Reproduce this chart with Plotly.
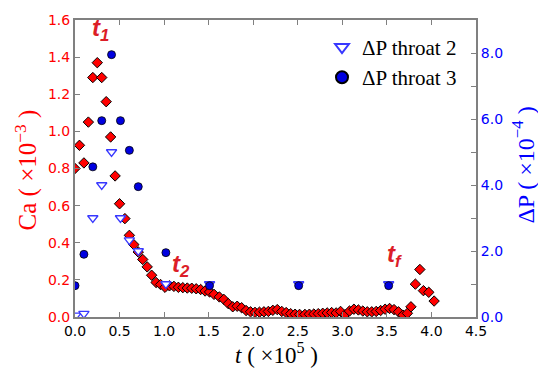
import plotly.graph_objects as go

# ---- data ----
t_ca = [0.00, 0.05, 0.10, 0.15, 0.20, 0.25, 0.30, 0.35, 0.40, 0.45,
        0.50, 0.56, 0.61, 0.66, 0.71, 0.76, 0.81, 0.86, 0.91, 0.96,
        1.01, 1.06, 1.11, 1.16, 1.21, 1.26, 1.31, 1.36, 1.41, 1.46,
        1.51, 1.56, 1.62, 1.67, 1.72, 1.77, 1.82, 1.87, 1.92, 1.97,
        2.02, 2.07, 2.12, 2.17, 2.22, 2.27, 2.32, 2.37, 2.42, 2.47,
        2.52, 2.58, 2.63, 2.68, 2.73, 2.78, 2.83, 2.88, 2.93, 2.98,
        3.03, 3.08, 3.13, 3.18, 3.23, 3.28, 3.33, 3.38, 3.43, 3.48,
        3.53, 3.58, 3.63, 3.68, 3.73, 3.77, 3.82, 3.87, 3.91, 3.97,
        4.03]
ca = [0.80, 0.925, 0.83, 1.05, 1.29, 1.37, 1.29, 1.16, 0.97, 0.76,
      0.61, 0.53, 0.44, 0.39, 0.35, 0.31, 0.27, 0.225, 0.186, 0.175,
      0.16, 0.168, 0.165, 0.16, 0.158, 0.156, 0.155, 0.152, 0.148, 0.14,
      0.135, 0.122, 0.108, 0.095, 0.072, 0.055, 0.058, 0.05, 0.035, 0.028,
      0.025, 0.026, 0.028, 0.03, 0.036, 0.04, 0.03, 0.024, 0.018, 0.015,
      0.014, 0.014, 0.015, 0.016, 0.018, 0.02, 0.022, 0.024, 0.022, 0.03,
      0.012, 0.032, 0.042, 0.038, 0.032, 0.028, 0.028, 0.03, 0.035, 0.042,
      0.046, 0.04, 0.028, 0.01, 0.02, 0.055, 0.177, 0.256, 0.142, 0.133,
      0.086]

t_dp2 = [0.01, 0.10, 0.20, 0.30, 0.41, 0.51, 0.61, 0.71, 1.02, 1.51, 2.51, 3.52]
dp2 = [0.05, 0.10, 3.0, 4.0, 5.0, 3.0, 2.33, 2.0, 1.0, 1.0, 1.0, 1.0]

t_dp3 = [0.00, 0.10, 0.20, 0.30, 0.41, 0.51, 0.61, 0.71, 1.02, 1.51, 2.51, 3.52]
dp3 = [0.95, 1.9, 4.55, 5.95, 7.95, 5.95, 5.05, 3.95, 1.95, 0.95, 0.95, 0.95]

x_ticks = [0.0, 0.5, 1.0, 1.5, 2.0, 2.5, 3.0, 3.5, 4.0, 4.5]
ca_ticks = [0.0, 0.2, 0.4, 0.6, 0.8, 1.0, 1.2, 1.4, 1.6]
dp_ticks = [0, 1, 2, 3, 4, 5, 6, 7, 8]
dp_ticktext = ["0.0", "", "2.0", "", "4.0", "", "6.0", "", "8.0"]

labels = ["t<sub>1</sub>", "t<sub>2</sub>", "t<sub>f</sub>"]
label_t = [0.29, 1.19, 3.59]
label_ca = [1.55, 0.28, 0.33]

# ---- figure ----
L, R, T, B = 75, 62, 13, 55
W, H = 538, 372
pw, ph = W - L - R, H - T - B

def px(xp):
    return (xp - L) / pw

def py(yp):
    return (H - B - yp) / ph

fig = go.Figure()
fig.add_trace(go.Scatter(
    x=t_ca, y=ca, mode="markers", showlegend=False,
    marker=dict(symbol="diamond", size=8, color="#ff0000",
                line=dict(color="black", width=1)),
))
fig.add_trace(go.Scatter(
    x=t_dp2, y=dp2, yaxis="y2", mode="markers", name="ΔP throat 2",
    marker=dict(symbol="triangle-down", size=9, color="white",
                line=dict(color="#3838ff", width=1.3)),
))
fig.add_trace(go.Scatter(
    x=t_dp3, y=dp3, yaxis="y2", mode="markers", name="ΔP throat 3",
    marker=dict(symbol="circle", size=8, color="#0000e0",
                line=dict(color="black", width=0.8)),
))

axis_common = dict(showline=True, linecolor="#808080", linewidth=2,
                   ticks="inside", ticklen=5, tickcolor="#808080",
                   showgrid=False, zeroline=False)

fig.update_layout(
    width=W, height=H,
    margin=dict(l=L, r=R, t=T, b=B),
    paper_bgcolor="white", plot_bgcolor="white",
    xaxis=dict(range=[0, 4.5], tickvals=x_ticks,
               ticktext=[f"{v:.1f}" for v in x_ticks], mirror="ticks",
               tickfont=dict(family="DejaVu Sans", size=14, color="black"),
               **axis_common),
    yaxis=dict(range=[0, 1.6], tickvals=ca_ticks,
               ticktext=[f"{v:.1f}" for v in ca_ticks],
               tickfont=dict(family="DejaVu Sans", size=14, color="#ff0000"),
               **axis_common),
    yaxis2=dict(range=[0, 9], overlaying="y", side="right", anchor="x",
                tickvals=dp_ticks, ticktext=dp_ticktext,
                tickfont=dict(family="DejaVu Sans", size=14, color="#0000ff"),
                **axis_common),
    legend=dict(x=px(322), y=py(20), xanchor="left", yanchor="top",
                bgcolor="rgba(0,0,0,0)",
                font=dict(family="Liberation Serif", size=21, color="black"),
                tracegroupgap=0, itemsizing="constant"),
    showlegend=True,
)

# axis titles
fig.add_annotation(x=px(26), y=py(167), xref="paper", yref="paper",
                   xanchor="center", yanchor="middle",
                   text="Ca ( ×10<sup>−3</sup> )", textangle=-90, showarrow=False,
                   font=dict(family="Liberation Serif", size=25, color="#ff0000"))
fig.add_annotation(x=px(523), y=py(162), xref="paper", yref="paper",
                   xanchor="center", yanchor="middle",
                   text="ΔP ( ×10<sup>−4</sup> )", textangle=-90, showarrow=False,
                   font=dict(family="Liberation Serif", size=24, color="#0000ff"))
fig.add_annotation(x=px(276), y=py(354), xref="paper", yref="paper",
                   xanchor="center", yanchor="middle",
                   text="<i>t</i> ( ×10<sup>5</sup> )", showarrow=False,
                   font=dict(family="Liberation Serif", size=23, color="black"))

for lab, lx, ly in zip(labels, label_t, label_ca):
    fig.add_annotation(x=lx, y=ly, xref="x", yref="y", showarrow=False,
                       xanchor="center", yanchor="middle",
                       text=f"<b><i>{lab}</i></b>",
                       font=dict(family="Liberation Sans", size=24, color="#dc1e28"))

fig.write_html("out.html")
